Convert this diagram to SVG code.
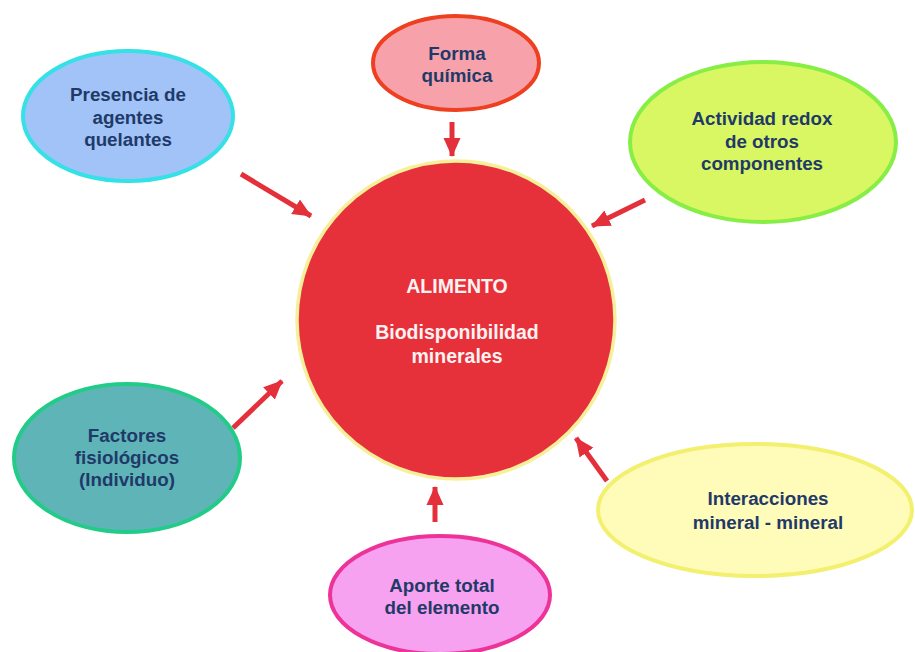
<svg xmlns="http://www.w3.org/2000/svg" width="915" height="652" viewBox="0 0 915 652">
<defs>
<marker id="ah" markerUnits="userSpaceOnUse" markerWidth="20" markerHeight="20" viewBox="0 0 20 20" refX="18" refY="10" orient="auto">
<path d="M0,1.5 L19,10 L0,18.5 Z" fill="#e3303a"/>
</marker>
<style>
.lbl{font-family:"Liberation Sans",Arial,sans-serif;font-weight:bold;font-size:18.8px;fill:#1f3a68;text-anchor:middle}
.wlbl{font-family:"Liberation Sans",Arial,sans-serif;font-weight:bold;font-size:19.5px;fill:#fff2f2;text-anchor:middle}
.arr{stroke:#e3303a;stroke-width:5;fill:none;marker-end:url(#ah)}
</style>
</defs>
<rect width="915" height="652" fill="#ffffff"/>
<g id="connectors">
<line class="arr" x1="241" y1="174" x2="311" y2="216"/>
<line class="arr" x1="452" y1="122" x2="452" y2="156"/>
<line class="arr" x1="645" y1="200" x2="592" y2="226"/>
<line class="arr" x1="233" y1="428" x2="282" y2="381"/>
<line class="arr" x1="607" y1="481" x2="576" y2="438"/>
<line class="arr" x1="435" y1="522" x2="435" y2="487"/>
</g>
<g id="center">
<circle cx="456" cy="320" r="159" fill="#e6313a" stroke="#f6f09a" stroke-width="3.5"/>
<text class="wlbl" x="457" y="293">ALIMENTO</text>
<text class="wlbl" x="457" y="339">Biodisponibilidad</text>
<text class="wlbl" x="457" y="363">minerales</text>
</g>
<g id="presencia">
<ellipse cx="128" cy="116" rx="105" ry="65" fill="#a2c3f7" stroke="#35e0e6" stroke-width="4"/>
<text class="lbl" x="128" y="101">Presencia de</text>
<text class="lbl" x="128" y="124">agentes</text>
<text class="lbl" x="128" y="146">quelantes</text>
</g>
<g id="forma">
<ellipse cx="456" cy="63" rx="83" ry="47" fill="#f7a2ab" stroke="#ee4020" stroke-width="4"/>
<text class="lbl" x="457" y="60">Forma</text>
<text class="lbl" x="457" y="82">química</text>
</g>
<g id="actividad">
<ellipse cx="763" cy="142" rx="133" ry="80" fill="#d9f663" stroke="#86ee45" stroke-width="4"/>
<text class="lbl" x="762" y="125">Actividad redox</text>
<text class="lbl" x="762" y="148">de otros</text>
<text class="lbl" x="762" y="170">componentes</text>
</g>
<g id="factores">
<ellipse cx="127" cy="458" rx="113" ry="74" fill="#5fb4b8" stroke="#22cc88" stroke-width="4"/>
<text class="lbl" x="127" y="442">Factores</text>
<text class="lbl" x="127" y="464">fisiológicos</text>
<text class="lbl" x="127" y="486">(Individuo)</text>
</g>
<g id="interacciones">
<ellipse cx="755" cy="510" rx="157" ry="66" fill="#fffbb9" stroke="#f2f06e" stroke-width="4"/>
<text class="lbl" x="768" y="505">Interacciones</text>
<text class="lbl" x="768" y="529">mineral - mineral</text>
</g>
<g id="aporte">
<ellipse cx="440" cy="595" rx="110" ry="59" fill="#f7a2f0" stroke="#ee3398" stroke-width="4"/>
<text class="lbl" x="442" y="592">Aporte total</text>
<text class="lbl" x="442" y="614">del elemento</text>
</g>
</svg>
